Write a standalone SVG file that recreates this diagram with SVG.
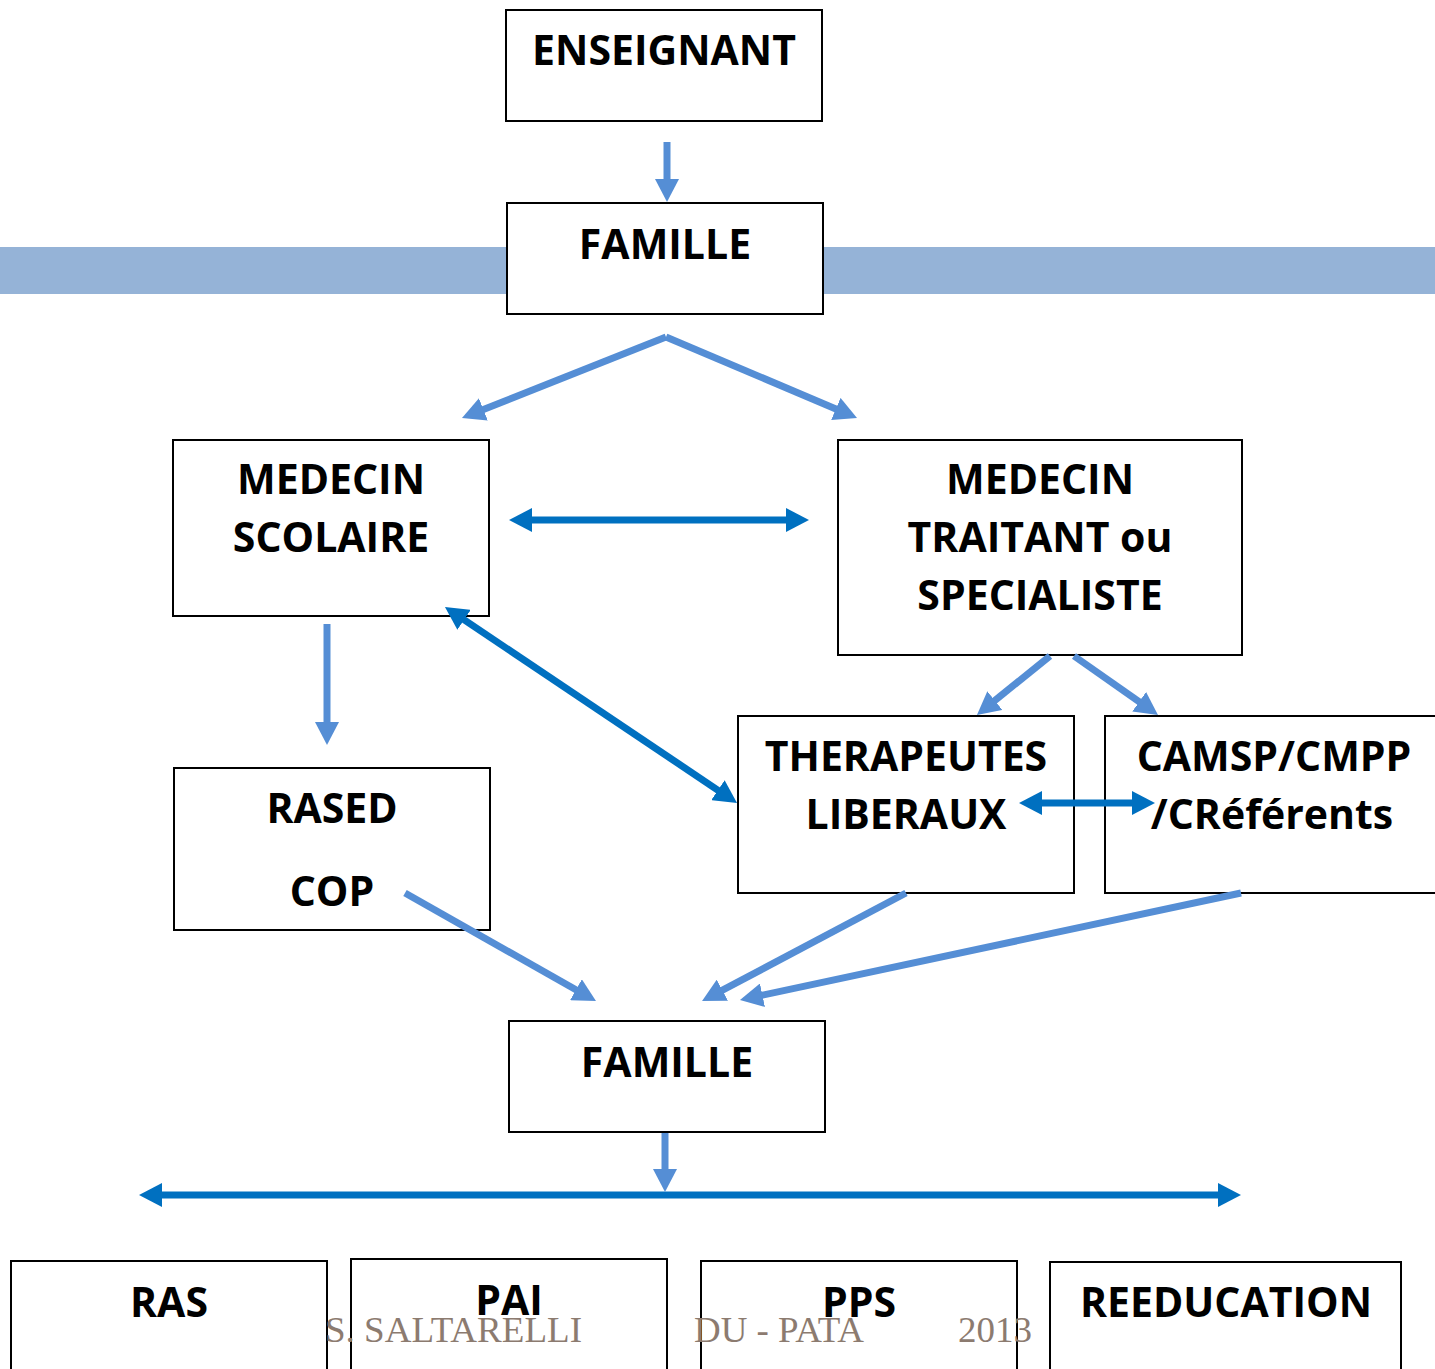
<svg xmlns="http://www.w3.org/2000/svg" width="1435" height="1369" viewBox="0 0 1435 1369">
<style>
.box{fill:#fff;stroke:#000;stroke-width:2}
.t{font-family:"Open Sans","Liberation Sans",sans-serif;font-weight:bold;font-size:41px;fill:#000;text-anchor:middle}
.lt{stroke:#558ED5;stroke-width:7;fill:none}
.dk{stroke:#0070C0;stroke-width:7;fill:none}
.foot{font-family:"Liberation Serif",serif;font-size:36px;fill:#8C7B70}
</style>
<defs>
<marker id="hl" markerUnits="userSpaceOnUse" markerWidth="23" markerHeight="24" refX="2" refY="12" orient="auto">
<path d="M0,0 L23,12 L0,24 z" fill="#558ED5"/>
</marker>
<marker id="hd" markerUnits="userSpaceOnUse" markerWidth="23" markerHeight="24" refX="2" refY="12" orient="auto-start-reverse">
<path d="M0,0 L23,12 L0,24 z" fill="#0070C0"/>
</marker>
</defs>
<rect x="0" y="247" width="1435" height="47" fill="#95B3D7"/>
<g id="enseignant"><rect class="box" x="506" y="10" width="316" height="111"/><text class="t" x="664" y="65">ENSEIGNANT</text></g>
<g id="famille1"><rect class="box" x="507" y="203" width="316" height="111"/><text class="t" x="665" y="259">FAMILLE</text></g>
<g id="medecin-scolaire"><rect class="box" x="173" y="440" width="316" height="176"/><text class="t" x="331" y="494">MEDECIN</text><text class="t" x="331" y="552">SCOLAIRE</text></g>
<g id="medecin-traitant"><rect class="box" x="838" y="440" width="404" height="215"/><text class="t" x="1040" y="494">MEDECIN</text><text class="t" x="1040" y="552">TRAITANT ou</text><text class="t" x="1040" y="610">SPECIALISTE</text></g>
<g id="rased"><rect class="box" x="174" y="768" width="316" height="162"/><text class="t" x="332" y="823">RASED</text><text class="t" x="332" y="906">COP</text></g>
<g id="therapeutes"><rect class="box" x="738" y="716" width="336" height="177"/><text class="t" x="906" y="771">THERAPEUTES</text><text class="t" x="906" y="829">LIBERAUX</text></g>
<g id="camsp"><rect class="box" x="1105" y="716" width="340" height="177"/><text class="t" x="1274" y="771">CAMSP/CMPP</text><text class="t" x="1272" y="829">/CRéférents</text></g>
<g id="famille2"><rect class="box" x="509" y="1021" width="316" height="111"/><text class="t" x="667" y="1077">FAMILLE</text></g>
<g id="ras"><rect class="box" x="11" y="1261" width="316" height="120"/><text class="t" x="169" y="1317">RAS</text></g>
<g id="pai"><rect class="box" x="351" y="1259" width="316" height="120"/><text class="t" x="509" y="1315">PAI</text></g>
<g id="pps"><rect class="box" x="701" y="1261" width="316" height="120"/><text class="t" x="859" y="1317">PPS</text></g>
<g id="reeducation"><rect class="box" x="1050" y="1262" width="351" height="120"/><text class="t" x="1226" y="1317">REEDUCATION</text></g>
<g id="connectors">
<line class="lt" x1="667" y1="142" x2="667" y2="181" marker-end="url(#hl)"/>
<line class="lt" x1="666" y1="337" x2="481.5" y2="410.2" marker-end="url(#hl)"/>
<line class="lt" x1="666" y1="337" x2="837.7" y2="409.7" marker-end="url(#hl)"/>
<line class="dk" x1="530" y1="520" x2="788" y2="520" marker-start="url(#hd)" marker-end="url(#hd)"/>
<line class="dk" x1="462.4" y1="618.7" x2="719.6" y2="791.3" marker-start="url(#hd)" marker-end="url(#hd)"/>
<line class="lt" x1="1050" y1="656" x2="993.3" y2="701.8" marker-end="url(#hl)"/>
<line class="lt" x1="1074" y1="656" x2="1140.8" y2="702.9" marker-end="url(#hl)"/>
<line class="lt" x1="327" y1="624" x2="327" y2="724" marker-end="url(#hl)"/>
<line class="dk" x1="1040" y1="803" x2="1134" y2="803" marker-start="url(#hd)" marker-end="url(#hd)"/>
<line class="lt" x1="405" y1="893" x2="577.7" y2="990.7" marker-end="url(#hl)"/>
<line class="lt" x1="906" y1="893" x2="720.6" y2="991.2" marker-end="url(#hl)"/>
<line class="lt" x1="1241" y1="893" x2="760.5" y2="995.6" marker-end="url(#hl)"/>
<line class="dk" x1="160" y1="1195" x2="1220" y2="1195" marker-start="url(#hd)" marker-end="url(#hd)"/>
<line class="lt" x1="665" y1="1133" x2="665" y2="1171" marker-end="url(#hl)"/>
</g>
<text class="foot" x="325" y="1342" textLength="257" lengthAdjust="spacingAndGlyphs">S. SALTARELLI</text>
<text class="foot" x="694" y="1342" textLength="170" lengthAdjust="spacingAndGlyphs">DU - PATA</text>
<text class="foot" x="958" y="1342" textLength="74" lengthAdjust="spacingAndGlyphs">2013</text>
</svg>
